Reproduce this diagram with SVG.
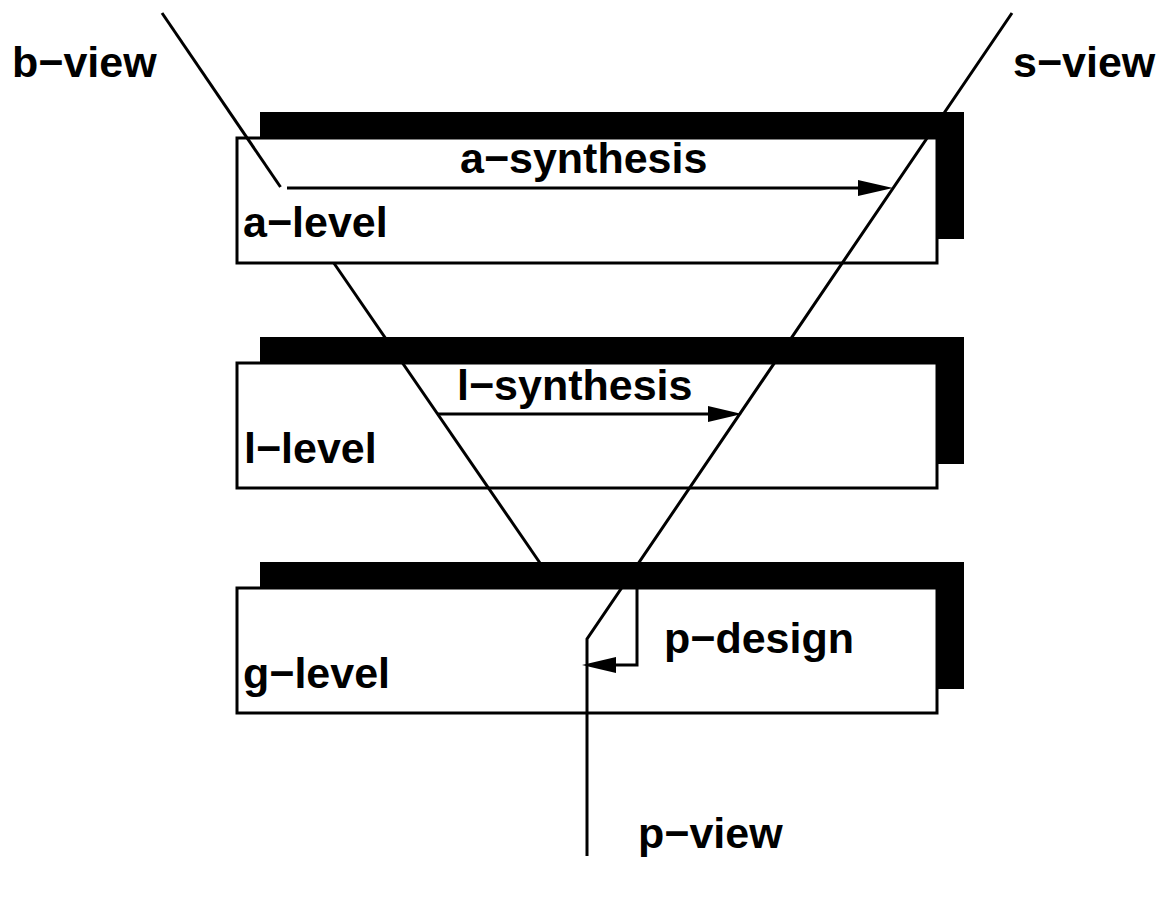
<svg xmlns="http://www.w3.org/2000/svg" width="1170" height="909" viewBox="0 0 1170 909">
<style>
.shadow{fill:#000;stroke:none}
.box{fill:#fff;stroke:#000;stroke-width:3}
.ln{fill:none;stroke:#000;stroke-width:3;stroke-linejoin:miter}
.ah{fill:#000;stroke:none}
text{font-family:"Liberation Sans",Arial,sans-serif;font-weight:bold;font-size:43px;fill:#000}
</style>
<rect width="1170" height="909" fill="#fff"/>
<g id="a-level">
<rect class="shadow" x="260" y="112" width="704" height="127"/>
<rect class="box" x="237" y="138" width="700" height="125"/>
</g>
<g id="l-level">
<rect class="shadow" x="260" y="337" width="704" height="127"/>
<rect class="box" x="237" y="363" width="700" height="125"/>
</g>
<g id="g-level">
<rect class="shadow" x="260" y="562" width="704" height="127"/>
<rect class="box" x="237" y="588" width="700" height="125"/>
</g>
<g id="connectors">
<line class="ln" x1="162" y1="13" x2="280.5" y2="187"/>
<line class="ln" x1="333.8" y1="263" x2="540" y2="563"/>
<polyline class="ln" points="1012,13 587,639 587,856"/>
<line class="ln" x1="287" y1="188" x2="860" y2="188"/>
<polygon class="ah" points="893,188 858,180 858,196"/>
<line class="ln" x1="437" y1="414" x2="710" y2="414"/>
<polygon class="ah" points="742,414 708,406 708,422"/>
<polyline class="ln" points="637,588 637,665 614,665"/>
<polygon class="ah" points="582,665 616,657 616,673"/>
</g>
<g id="shadow-overlays">
<polygon class="shadow" points="260,112 964,112 964,239 938.5,239 938.5,136.5 260,136.5"/>
<polygon class="shadow" points="260,337 964,337 964,464 938.5,464 938.5,361.5 260,361.5"/>
<polygon class="shadow" points="260,562 964,562 964,689 938.5,689 938.5,586.5 260,586.5"/>
</g>
<g id="labels">
<text x="12" y="77">b−view</text>
<text x="1013" y="77">s−view</text>
<text x="460" y="173">a−synthesis</text>
<text x="243" y="237">a−level</text>
<text x="457" y="400">l−synthesis</text>
<text x="244" y="463">l−level</text>
<text x="664" y="653">p−design</text>
<text x="243" y="688">g−level</text>
<text x="638" y="848">p−view</text>
</g>
</svg>
